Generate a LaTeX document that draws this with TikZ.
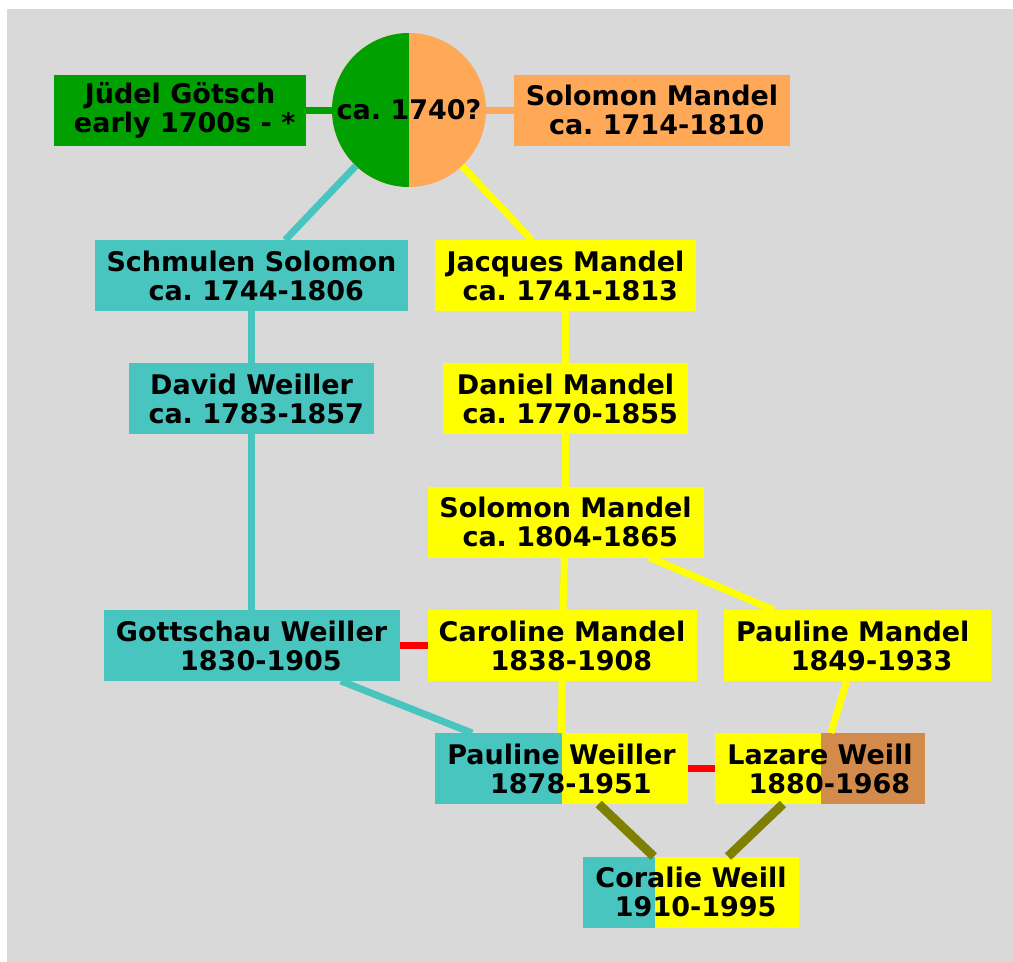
\documentclass[tikz,border=0pt]{standalone}
\usepackage{xcolor}
\usepackage{tikz}
\usepackage{fontspec}
\setmainfont{DejaVu Sans}
\frenchspacing

% leading spaces inside a label line
\newcommand{\lsp}[1]{\hspace*{#1\fontdimen2\font}}

\begin{document}
\begin{tikzpicture}[x=1pt,y=-1pt,
  person/.style={rectangle, inner sep=0pt, outer sep=0pt, minimum height=71pt,
    align=center, font=\bfseries\fontsize{27}{29}\selectfont},
  halves/.style n args={3}{fill=#2, path picture={
    \fill[#1] (path picture bounding box.south west) rectangle ([xshift=#3]path picture bounding box.north west);}},
  link/.style={line width=7pt},
  childlink/.style={line width=9pt}]
% Define colours
\definecolor{bgcol}{RGB}{217,217,217}     % Light grey
\definecolor{greencol}{RGB}{0,160,0}      % Green
\definecolor{orangecol}{RGB}{255,168,88}  % Light orange
\definecolor{tealcol}{RGB}{73,197,192}    % Turquoise
\definecolor{yellowcol}{RGB}{255,255,0}   % Yellow
\definecolor{browncol}{RGB}{211,139,75}   % Peru
\definecolor{olivecol}{RGB}{128,128,0}    % Olive
\definecolor{redcol}{RGB}{255,0,0}        % Red

% Background
\useasboundingbox (0,0) rectangle (1013,962);
\fill[bgcol] (7,9) rectangle (1013,962);

% Top row
\node[person, fill=greencol, minimum width=252pt] (judel) at (180,110) {Jüdel Götsch\\\lsp{1}early 1700s - *};
\node[person, circle, minimum size=154pt, halves={greencol}{orangecol}{77pt}] (anc) at (409,110) {ca. 1740?};
\node[person, fill=orangecol, minimum width=276pt] (solomonA) at (652,110) {Solomon Mandel\\\lsp{1}ca. 1714-1810};

% Weiller line
\node[person, fill=tealcol, minimum width=313pt] (schmulen) at (251.5,275.5) {Schmulen Solomon\\\lsp{1}ca. 1744-1806};
\node[person, fill=tealcol, minimum width=245pt] (david) at (251.5,398.5) {David Weiller\\\lsp{1}ca. 1783-1857};
\node[person, fill=tealcol, minimum width=296pt] (gottschau) at (251.5,645.5) {Gottschau Weiller\\\lsp{2}1830-1905};

% Mandel line
\node[person, fill=yellowcol, minimum width=261pt] (jacques) at (565.5,275.5) {Jacques Mandel\\\lsp{1}ca. 1741-1813};
\node[person, fill=yellowcol, minimum width=245pt] (daniel) at (565.5,398.5) {Daniel Mandel\\\lsp{1}ca. 1770-1855};
\node[person, fill=yellowcol, minimum width=276pt] (solomonB) at (565.5,522) {Solomon Mandel\\\lsp{1}ca. 1804-1865};
\node[person, fill=yellowcol, minimum width=269pt] (caroline) at (562,645.5) {Caroline Mandel\\\lsp{2}1838-1908};
\node[person, fill=yellowcol, minimum width=267pt] (paulineM) at (857.5,645.5) {Pauline Mandel\lsp{1}\\\lsp{3}1849-1933};

% Last generations
\node[person, halves={tealcol}{yellowcol}{127pt}, minimum width=253pt] (paulineW) at (561.5,768.5) {Pauline Weiller\\\lsp{2}1878-1951};
\node[person, halves={yellowcol}{browncol}{106pt}, minimum width=210pt] (lazare) at (820,768.5) {Lazare Weill\\\lsp{2}1880-1968};
\node[person, halves={tealcol}{yellowcol}{72pt}, minimum width=216pt] (coralie) at (691,892) {Coralie Weill\\\lsp{1}1910-1995};

% Links
\draw[link, greencol] (judel) -- (anc);
\draw[link, orangecol] (anc) -- (solomonA);
\draw[link, tealcol] (anc) -- (schmulen);
\draw[link, yellowcol] (anc) -- (jacques);
\draw[link, tealcol] (schmulen) -- (david);
\draw[link, tealcol] (david) -- (gottschau);
\draw[link, yellowcol] (jacques) -- (daniel);
\draw[link, yellowcol] (daniel) -- (solomonB);
\draw[link, yellowcol] (solomonB) -- (caroline);
\draw[link, yellowcol] (solomonB) -- (paulineM);
\draw[link, redcol] (gottschau) -- (caroline);
\draw[link, tealcol] (gottschau) -- (paulineW);
\draw[link, yellowcol] (caroline) -- (paulineW);
\draw[link, yellowcol] (paulineM) -- (lazare);
\draw[link, redcol] (paulineW) -- (lazare);
\draw[childlink, olivecol] (paulineW) -- (coralie);
\draw[childlink, olivecol] (lazare) -- (coralie);
\end{tikzpicture}
\end{document}
